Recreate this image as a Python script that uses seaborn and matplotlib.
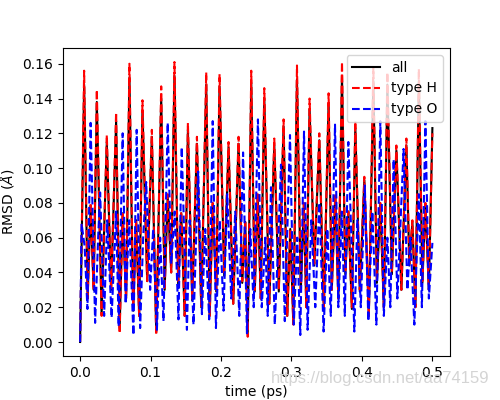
import matplotlib
matplotlib.use('Agg')
import matplotlib.pyplot as plt
import seaborn as sns

# time (ps) and RMSD (Angstrom)
h_time = [0.0, 0.0057, 0.0107, 0.0149, 0.0192, 0.0237, 0.0305, 0.0379,
          0.0440, 0.0511, 0.0561, 0.0604, 0.0653, 0.0700, 0.0753, 0.0795,
          0.0838, 0.0885, 0.0952, 0.1018, 0.1080, 0.1151, 0.1200, 0.1243,
          0.1293, 0.1339, 0.1392, 0.1435, 0.1484, 0.1530, 0.1591, 0.1658,
          0.1719, 0.1790, 0.1839, 0.1882, 0.1932, 0.1979, 0.2045, 0.2107,
          0.2173, 0.2249, 0.2301, 0.2344, 0.2379, 0.2429, 0.2479, 0.2521,
          0.2564, 0.2614, 0.2685, 0.2756, 0.2820, 0.2888, 0.2940, 0.2983,
          0.3026, 0.3078, 0.3132, 0.3175, 0.3210, 0.3257, 0.3324, 0.3395,
          0.3459, 0.3527, 0.3572, 0.3622, 0.3665, 0.3717, 0.3764, 0.3807,
          0.3857, 0.3906, 0.3970, 0.4034, 0.4098, 0.4162, 0.4212, 0.4261,
          0.4311, 0.4361, 0.4425, 0.4489, 0.4560, 0.4631, 0.4673, 0.4716,
          0.4759, 0.4808, 0.4858, 0.4901, 0.4950, 0.5000]

h_rmsd = [0.000, 0.156, 0.025, 0.080, 0.030, 0.145, 0.015, 0.119,
          0.030, 0.132, 0.005, 0.075, 0.025, 0.160, 0.020, 0.070,
          0.015, 0.139, 0.035, 0.122, 0.004, 0.147, 0.030, 0.085,
          0.040, 0.161, 0.035, 0.075, 0.015, 0.126, 0.025, 0.118,
          0.020, 0.155, 0.015, 0.080, 0.030, 0.154, 0.040, 0.115,
          0.022, 0.118, 0.035, 0.070, 0.003, 0.156, 0.030, 0.085,
          0.025, 0.146, 0.022, 0.117, 0.030, 0.128, 0.015, 0.065,
          0.010, 0.159, 0.030, 0.080, 0.020, 0.140, 0.045, 0.120,
          0.020, 0.143, 0.030, 0.085, 0.025, 0.161, 0.040, 0.075,
          0.020, 0.127, 0.030, 0.095, 0.015, 0.158, 0.035, 0.080,
          0.020, 0.155, 0.040, 0.113, 0.030, 0.117, 0.045, 0.070,
          0.020, 0.157, 0.035, 0.080, 0.030, 0.120]

all_rmsd = [0.000, 0.148, 0.026, 0.078, 0.030, 0.138, 0.016, 0.115,
            0.030, 0.127, 0.008, 0.074, 0.025, 0.152, 0.018, 0.070,
            0.015, 0.133, 0.035, 0.118, 0.006, 0.140, 0.030, 0.084,
            0.040, 0.153, 0.033, 0.074, 0.015, 0.122, 0.024, 0.114,
            0.020, 0.148, 0.015, 0.079, 0.029, 0.147, 0.038, 0.112,
            0.022, 0.114, 0.034, 0.069, 0.005, 0.149, 0.029, 0.084,
            0.025, 0.140, 0.022, 0.113, 0.029, 0.124, 0.015, 0.065,
            0.011, 0.151, 0.029, 0.079, 0.020, 0.134, 0.044, 0.116,
            0.019, 0.137, 0.030, 0.084, 0.025, 0.153, 0.039, 0.075,
            0.019, 0.123, 0.029, 0.093, 0.015, 0.150, 0.034, 0.079,
            0.020, 0.148, 0.039, 0.110, 0.030, 0.113, 0.044, 0.069,
            0.020, 0.150, 0.034, 0.079, 0.030, 0.123]

o_time = [0.0, 0.0021, 0.0064, 0.0104, 0.0149, 0.0213, 0.0256, 0.0284,
          0.0341, 0.0384, 0.0447, 0.0511, 0.0547, 0.0604, 0.0646, 0.0696,
          0.0757, 0.0803, 0.0852, 0.0895, 0.0938, 0.0994, 0.1037, 0.1090,
          0.1136, 0.1183, 0.1243, 0.1293, 0.1342, 0.1396, 0.1442, 0.1516,
          0.1555, 0.1609, 0.1676, 0.1729, 0.1776, 0.1832, 0.1882, 0.1928,
          0.1982, 0.2036, 0.2088, 0.2145, 0.2202, 0.2259, 0.2313, 0.2368,
          0.2415, 0.2464, 0.2524, 0.2578, 0.2628, 0.2663, 0.2709, 0.2763,
          0.2805, 0.2851, 0.2905, 0.2979, 0.3033, 0.3082, 0.3125, 0.3178,
          0.3229, 0.3281, 0.3338, 0.3395, 0.3456, 0.3509, 0.3558, 0.3618,
          0.3665, 0.3714, 0.3757, 0.3807, 0.3892, 0.3935, 0.3984, 0.4041,
          0.4091, 0.4148, 0.4205, 0.4261, 0.4311, 0.4361, 0.4403, 0.4450,
          0.4503, 0.4591, 0.4645, 0.4688, 0.4744, 0.4808, 0.4851, 0.4901,
          0.4950, 0.5000]

o_rmsd = [0.000, 0.068, 0.055, 0.019, 0.126, 0.011, 0.060, 0.086,
          0.015, 0.070, 0.014, 0.075, 0.009, 0.120, 0.022, 0.070,
          0.004, 0.122, 0.008, 0.060, 0.092, 0.030, 0.065, 0.007,
          0.060, 0.012, 0.126, 0.045, 0.075, 0.013, 0.112, 0.007,
          0.070, 0.010, 0.098, 0.016, 0.065, 0.013, 0.127, 0.008,
          0.070, 0.018, 0.085, 0.025, 0.075, 0.015, 0.109, 0.005,
          0.065, 0.020, 0.128, 0.020, 0.060, 0.015, 0.089, 0.010,
          0.050, 0.102, 0.012, 0.119, 0.010, 0.060, 0.004, 0.121,
          0.007, 0.070, 0.020, 0.080, 0.006, 0.065, 0.015, 0.125,
          0.020, 0.075, 0.015, 0.115, 0.006, 0.070, 0.020, 0.090,
          0.012, 0.075, 0.010, 0.127, 0.015, 0.060, 0.020, 0.105,
          0.025, 0.111, 0.030, 0.060, 0.010, 0.085, 0.020, 0.127,
          0.025, 0.057]

fig, ax = plt.subplots(figsize=(5, 4), dpi=100)

sns.lineplot(x=h_time, y=all_rmsd, color='k', label='all', ax=ax)
sns.lineplot(x=h_time, y=h_rmsd, color='r', linestyle='--', label='type H', ax=ax)
sns.lineplot(x=o_time, y=o_rmsd, color='b', linestyle='--', label='type O', ax=ax)

ax.set_xlabel('time (ps)')
ax.set_ylabel(r'RMSD ($\AA$)')
ax.legend(loc='upper right')

# csdn watermark
fig.text(0.98, 0.055, 'https://blog.csdn.net/aa74159', ha='right', va='center',
         color='#d4d4d4', fontsize=12, family='Liberation Sans')

plt.savefig('out.png')
plt.close()
